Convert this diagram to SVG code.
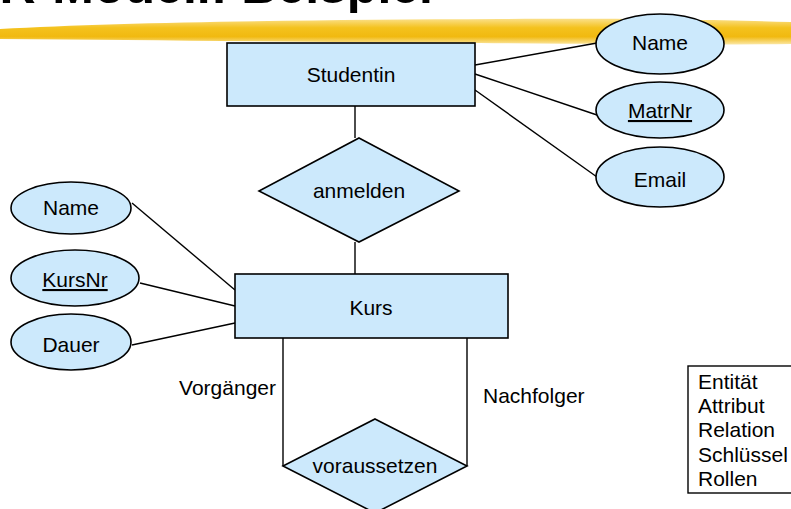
<svg xmlns="http://www.w3.org/2000/svg" width="791" height="509" viewBox="0 0 791 509">
<style>
.ent{fill:#cce9fc;stroke:#000;stroke-width:1.6}
.t{font-family:"Liberation Sans",Arial,sans-serif;font-size:21px;fill:#000;text-anchor:middle}
.l{font-family:"Liberation Sans",Arial,sans-serif;font-size:21px;fill:#000}
.c line{stroke:#000;stroke-width:1.4}
</style>
<defs>
<linearGradient id="hl" x1="0" y1="0" x2="0" y2="1">
<stop offset="0" stop-color="#fbe08a"/>
<stop offset="0.35" stop-color="#f4c21e"/>
<stop offset="0.7" stop-color="#f1b910"/>
<stop offset="1" stop-color="#fbe7a4"/>
</linearGradient>
</defs>
<rect width="791" height="509" fill="#fff"/>
<g id="title">
<path d="M0,29 C120,22 300,20 500,19 C640,18 720,20 791,22 L791,44 C700,45 600,44 480,43 C300,42 150,40 0,39 Z" fill="url(#hl)"/>
<text x="433" y="3" font-family="Liberation Sans,Arial,sans-serif" font-size="50" font-weight="bold" text-anchor="end">ER-Modell: Beispiel</text>
</g>
<g class="c" id="connectors">
<line x1="355" y1="106" x2="355" y2="138"/>
<line x1="355" y1="242" x2="355" y2="274"/>
<line x1="475" y1="65" x2="597" y2="43"/>
<line x1="475" y1="74" x2="597" y2="115"/>
<line x1="475" y1="90" x2="597" y2="177"/>
<line x1="132" y1="203" x2="235" y2="290"/>
<line x1="140" y1="283" x2="235" y2="306"/>
<line x1="132" y1="345" x2="235" y2="323"/>
<line x1="283" y1="338" x2="283" y2="466"/>
<line x1="467" y1="338" x2="467" y2="466"/>
</g>
<g id="studentin"><rect class="ent" x="227" y="43" width="248" height="63"/><text class="t" x="351" y="82">Studentin</text></g>
<g id="anmelden"><polygon class="ent" points="359,138 459,191 359,242 259,191"/><text class="t" x="359" y="198">anmelden</text></g>
<g id="kurs"><rect class="ent" x="235" y="274" width="273" height="64"/><text class="t" x="371" y="315">Kurs</text></g>
<g id="voraussetzen"><polygon class="ent" points="375,419 467,466 375,513 283,466"/><text class="t" x="375" y="473">voraussetzen</text></g>
<g id="s-name"><ellipse class="ent" cx="660" cy="44" rx="64" ry="30"/><text class="t" x="660" y="50">Name</text></g>
<g id="s-matrnr"><ellipse class="ent" cx="660" cy="110" rx="64" ry="28"/><text class="t" x="660" y="118" text-decoration="underline">MatrNr</text></g>
<g id="s-email"><ellipse class="ent" cx="660" cy="177" rx="64" ry="30"/><text class="t" x="660" y="187">Email</text></g>
<g id="k-name"><ellipse class="ent" cx="71" cy="208" rx="60" ry="26"/><text class="t" x="71" y="215">Name</text></g>
<g id="k-kursnr"><ellipse class="ent" cx="75" cy="278" rx="64" ry="28"/><text class="t" x="75" y="287" text-decoration="underline">KursNr</text></g>
<g id="k-dauer"><ellipse class="ent" cx="71" cy="342" rx="60" ry="28"/><text class="t" x="71" y="352">Dauer</text></g>
<g id="roles">
<text class="l" x="276" y="395" text-anchor="end">Vorgänger</text>
<text class="l" x="483" y="403">Nachfolger</text>
</g>
<g id="legend">
<rect x="688" y="366" width="110" height="127" fill="#fff" stroke="#000" stroke-width="1.4"/>
<text class="l" x="698" y="389">Entität</text>
<text class="l" x="698" y="413">Attribut</text>
<text class="l" x="698" y="437">Relation</text>
<text class="l" x="698" y="462">Schlüssel</text>
<text class="l" x="698" y="486">Rollen</text>
</g>
</svg>
